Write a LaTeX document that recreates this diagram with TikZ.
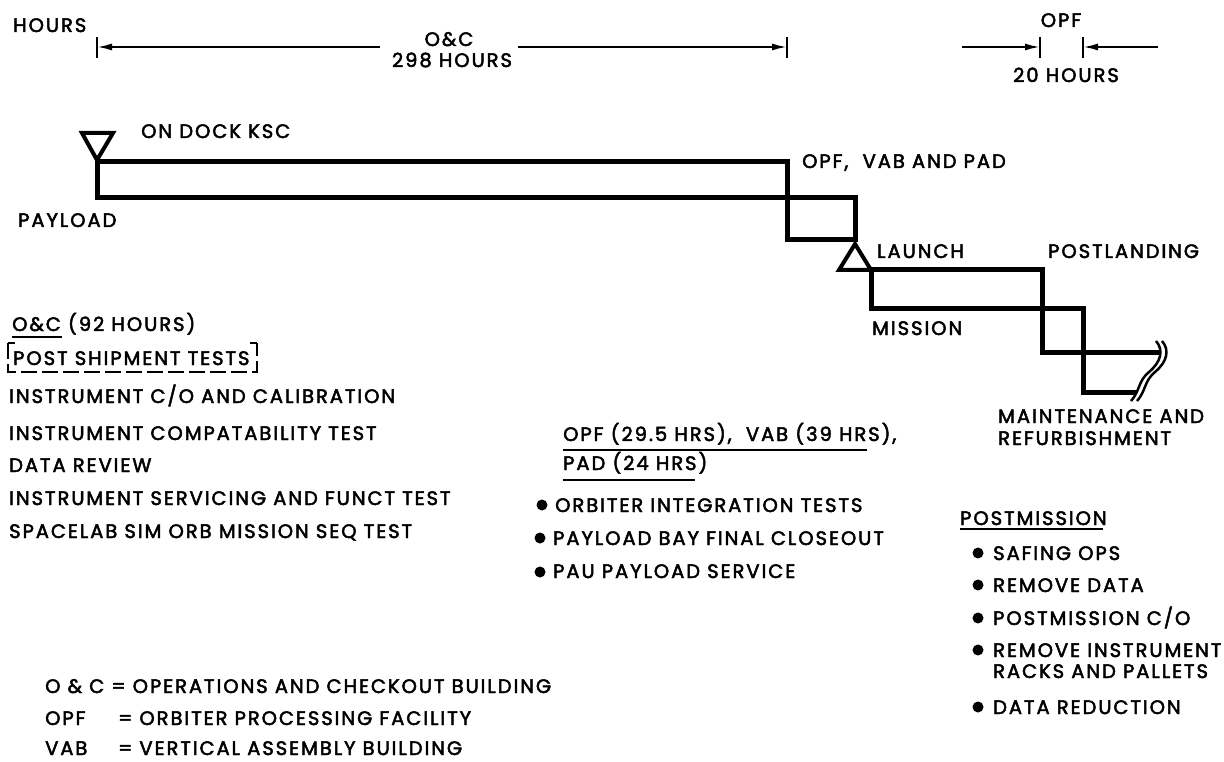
\documentclass[tikz,border=0pt]{standalone}
\usepackage{fontspec}
\setmainfont{Poppins}[FakeBold=2.5,LetterSpace=10]
\usetikzlibrary{arrows.meta}
\begin{document}
\begin{tikzpicture}[x=1pt,y=-1pt,
  lbl/.style={anchor=base west,inner sep=0pt,font=\fontsize{19.5}{23}\selectfont},
  clbl/.style={anchor=base,inner sep=0pt,font=\fontsize{19.5}{23}\selectfont},
  bar/.style={line width=5pt},
  tri/.style={line width=4pt,line join=miter},
  dimarrow/.style={line width=2pt,-{Latex[length=15pt,width=7pt]}},
  ticks/.style={line width=2pt},
  bulletdot/.style={circle,fill=black,inner sep=0pt,minimum size=11pt},
  uline/.style={line width=2.2pt},
  brk/.style={line width=2.5pt}]
\useasboundingbox (0,0) rectangle (1224,762);

% ---- top dimension lines
\node[lbl] (hours) at (13,32) {HOURS};
\coordinate (ocL) at (97,47);
\coordinate (ocR) at (787,47);
\draw[ticks] (97,37) -- (97,58);
\draw[ticks] (787,37) -- (787,58);
\node[clbl] (oc) at (449,46) {O\&C};
\node[clbl] (oc298) at (452,67) {298 HOURS};
\coordinate (gapL) at (380,47);
\coordinate (gapR) at (518,47);
\draw[dimarrow] (gapL) -- (ocL);
\draw[dimarrow] (gapR) -- (ocR);

\node[clbl] (opftop) at (1061,27) {OPF};
\node[clbl] (opf20) at (1066,82) {20 HOURS};
\coordinate (opfL) at (1040,47);
\coordinate (opfR) at (1083,47);
\coordinate (opfLs) at (962,47);
\coordinate (opfRs) at (1158,47);
\draw[ticks] (1040,37) -- (1040,58);
\draw[ticks] (1083,37) -- (1083,58);
\draw[dimarrow] (opfLs) -- (opfL);
\draw[dimarrow] (opfRs) -- (opfR);

% ---- stepped bars
\draw[bar] (97,162) rectangle (787,198);
\draw[bar] (787,198) rectangle (855,240);
\draw[bar] (871,270) rectangle (1042,308);
\draw[bar] (1042,308) rectangle (1083,352);
\draw[bar] (1042,352) -- (1160,352);
\draw[bar] (1083,352) -- (1083,392) -- (1137,392);
% break symbol
\draw[brk] (1156,341) .. controls (1164,350) and (1161,362) .. (1149,372)
  .. controls (1138,381) and (1140,391) .. (1131,401);
\draw[brk] (1162,341) .. controls (1170,350) and (1167,362) .. (1155,372)
  .. controls (1144,381) and (1146,391) .. (1137,401);

% triangles
\draw[tri] (82,133) -- (113,133) -- (97,160) -- cycle;
\draw[tri] (855,244) -- (871,270) -- (839,270) -- cycle;

\node[lbl] (ondock) at (141,138) {ON DOCK KSC};
\node[lbl] (payload) at (18,227) {PAYLOAD};
\node[lbl] (opfvab) at (802,168) {OPF,\ \ VAB AND PAD};
\node[lbl] (launch) at (877,258) {LAUNCH};
\node[lbl] (postland) at (1048,258) {POSTLANDING};
\node[lbl] (mission) at (872,335) {MISSION};
\node[lbl] (maint) at (998,423) {MAINTENANCE AND};
\node[lbl] (refurb) at (998,445) {REFURBISHMENT};

% ---- left text
\node[lbl] (ochead) at (12,331) {O\&C (92 HOURS)};
\draw[uline] (12,337) -- (62,337);
\node[lbl] (pst) at (13,365) {POST SHIPMENT TESTS};
\draw[uline,dash pattern=on 16pt off 5pt] (8,343) -- (8,372) -- (257,372) -- (257,343);
\draw[uline] (8,343) -- (15,343);
\draw[uline] (257,343) -- (250,343);
\node[lbl] (l1) at (9,403) {INSTRUMENT C/O AND CALIBRATION};
\node[lbl] (l2) at (9,440) {INSTRUMENT COMPATABILITY TEST};
\node[lbl] (l3) at (9,472) {DATA REVIEW};
\node[lbl] (l4) at (9,505) {INSTRUMENT SERVICING AND FUNCT TEST};
\node[lbl] (l5) at (9,538) {SPACELAB SIM ORB MISSION SEQ TEST};

% ---- middle text
\node[lbl] (m1) at (563,441) {OPF (29.5 HRS),\ \ VAB (39 HRS),};
\draw[uline] (563,450) -- (867,450);
\node[lbl] (m2) at (563,470) {PAD (24 HRS)};
\draw[uline] (563,480) -- (695,480);
\node[bulletdot] (b1) at (542,505) {};
\node[lbl] (m3) at (555,512) {ORBITER INTEGRATION TESTS};
\node[bulletdot] (b2) at (540,538) {};
\node[lbl] (m4) at (553,545) {PAYLOAD BAY FINAL CLOSEOUT};
\node[bulletdot] (b3) at (540,572) {};
\node[lbl] (m5) at (553,578) {PAU PAYLOAD SERVICE};

% ---- right text
\node[lbl] (pmhead) at (960,525) {POSTMISSION};
\draw[uline] (960,529) -- (1103,529);
\node[bulletdot] (r1) at (978,553) {};
\node[lbl] (t1) at (993,560) {SAFING OPS};
\node[bulletdot] (r2) at (978,585) {};
\node[lbl] (t2) at (993,592) {REMOVE DATA};
\node[bulletdot] (r3) at (978,618) {};
\node[lbl] (t3) at (993,625) {POSTMISSION C/O};
\node[bulletdot] (r4) at (978,650) {};
\node[lbl] (t4) at (993,657) {REMOVE INSTRUMENT};
\node[lbl] (t4b) at (993,678) {RACKS AND PALLETS};
\node[bulletdot] (r5) at (978,707) {};
\node[lbl] (t5) at (993,714) {DATA REDUCTION};

% ---- legend
\node[lbl] (lg1) at (45,693) {O \& C = OPERATIONS AND CHECKOUT BUILDING};
\node[lbl] (lg2a) at (45,725) {OPF};
\node[lbl] (lg2b) at (118,725) {= ORBITER PROCESSING FACILITY};
\node[lbl] (lg3a) at (45,755) {VAB};
\node[lbl] (lg3b) at (118,755) {= VERTICAL ASSEMBLY BUILDING};
\end{tikzpicture}
\end{document}
